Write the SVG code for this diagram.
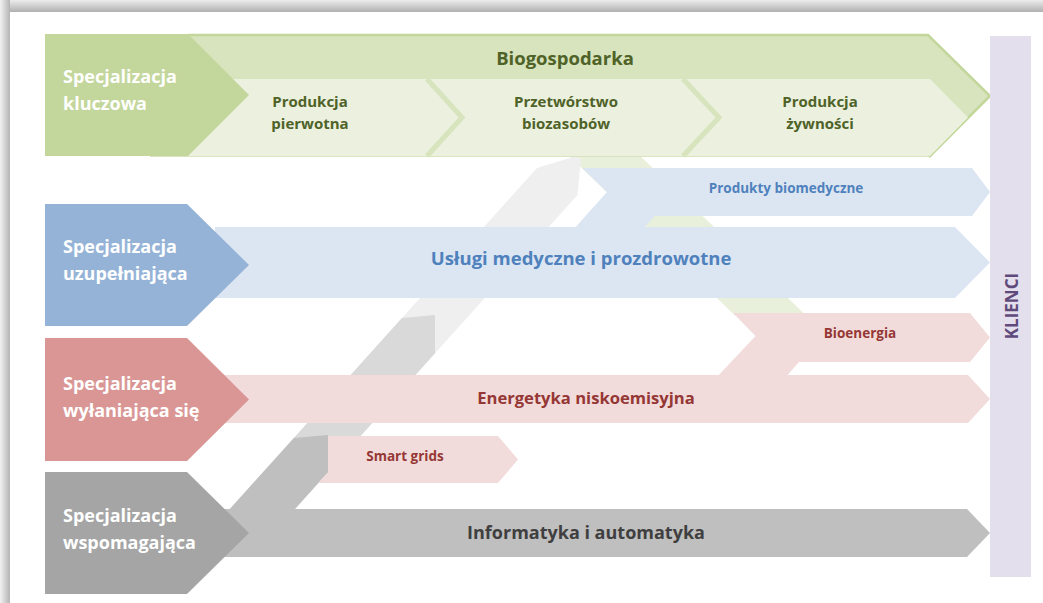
<svg xmlns="http://www.w3.org/2000/svg" width="1043" height="603" viewBox="0 0 1043 603">
  <defs>
    <linearGradient id="gt" x1="0" y1="0" x2="0" y2="1">
      <stop offset="0" stop-color="#ececec"/>
      <stop offset="1" stop-color="#b0b0b0"/>
    </linearGradient>
    <linearGradient id="gl" x1="0" y1="0" x2="1" y2="0">
      <stop offset="0" stop-color="#f2f2f2"/>
      <stop offset="1" stop-color="#b4b4b4"/>
    </linearGradient>
    <style>
      text { font-family: "Open Sans", "Liberation Sans", sans-serif; font-weight: bold; }
      .ch { font-size: 18px; fill: #ffffff; }
      .big { font-size: 18.5px; text-anchor: middle; }
      .sub { font-size: 15px; text-anchor: middle; fill: #4f6228; }
      .sm { font-size: 13.5px; text-anchor: middle; }
      .g { fill: #4f6228; }
      .b { fill: #4f81bd; }
      .r { fill: #953735; }
      .k { fill: #3f3f3f; }
      .sep { fill: none; stroke: #d7e4bd; stroke-width: 5; stroke-linejoin: miter; }
    </style>
  </defs>

  <!-- card with shadow -->
  <rect x="0" y="0" width="1043" height="603" fill="#ffffff"/>
  <rect x="0" y="0" width="1043" height="12" fill="url(#gt)"/>
  <rect x="0" y="0" width="10" height="603" fill="url(#gl)"/>

  <!-- connectors: diagonal branch bands -->
  <g id="connectors">
    <polygon points="563,150 634,150 806.6,316 735.6,316" fill="#e8efdb"/>
    <polygon points="537,168 573,157 581,158 577.5,195 285,520 220,520" fill="#efefef"/>
    <polygon points="402,318 435,315 435,353.3 285,520 220,520" fill="#d9d9d9"/>
    <polygon points="294,438 328,435 328,472.2 285,520 220,520" fill="#bfbfbf"/>
  </g>

  <!-- Biogospodarka -->
  <g id="biogospodarka">
    <polygon points="150,35 928,35 990,96 929,157 150,157" fill="#d7e4bd"/>
    <polyline points="188,35 928,35 990,96 929,157" fill="none" stroke="#c3d69b" stroke-width="2.5"/>
    <polygon points="150,79 930,79 968,117.5 930,156 150,156" fill="#ebf1de"/>
    <polyline class="sep" points="427,79 462,117.5 427,156"/>
    <polyline class="sep" points="683,79 719,117.5 683,156"/>
    <text class="big g" x="565" y="65">Biogospodarka</text>
  </g>
  <g id="produkcja-pierwotna">
    <text class="sub" x="310" y="107">Produkcja</text>
    <text class="sub" x="310" y="129">pierwotna</text>
  </g>
  <g id="przetworstwo">
    <text class="sub" x="566" y="107">Przetwórstwo</text>
    <text class="sub" x="566" y="129">biozasobów</text>
  </g>
  <g id="produkcja-zywnosci">
    <text class="sub" x="820" y="107">Produkcja</text>
    <text class="sub" x="820" y="129">żywności</text>
  </g>

  <!-- Usługi + Produkty biomedyczne -->
  <g id="produkty-biomedyczne">
    <polygon points="582,168 972,168 990,192 972,216 654.6,216 642,230 573,230 607,192" fill="#dce6f2"/>
    <text class="sm b" x="786" y="193">Produkty biomedyczne</text>
  </g>
  <g id="uslugi">
    <polygon points="215,227 955,227 990,262.5 955,298 215,298" fill="#dce6f2"/>
    <text class="big b" x="581" y="265">Usługi medyczne i prozdrowotne</text>
  </g>

  <!-- Energetyka + Bioenergia -->
  <g id="bioenergia">
    <polygon points="733,313 970,313 990,337.5 970,362 799,362 785,378 716,378 755.5,336" fill="#f2dcdb"/>
    <text class="sm r" x="860" y="338">Bioenergia</text>
  </g>
  <g id="energetyka">
    <polygon points="215,375 968,375 990,399 968,423 215,423" fill="#f2dcdb"/>
    <text class="big r" x="586" y="404" style="font-size:16.6px">Energetyka niskoemisyjna</text>
  </g>
  <g id="smart-grids">
    <polygon points="328,436 498,436 518,459.5 498,483 318.3,483 328,472.2" fill="#f2dcdb"/>
    <text class="sm r" x="405" y="461">Smart grids</text>
  </g>

  <!-- Informatyka -->
  <g id="informatyka">
    <polygon points="215,509 967,509 990,533 967,557 215,557" fill="#bfbfbf"/>
    <text class="big k" x="586" y="539" style="font-size:18px">Informatyka i automatyka</text>
  </g>

  <!-- Chevrons -->
  <g id="spec-kluczowa">
    <polygon points="45,34 188,34 249,95 188,156 45,156" fill="#c3d69b"/>
    <text class="ch" x="63" y="83">Specjalizacja</text>
    <text class="ch" x="63" y="110">kluczowa</text>
  </g>
  <g id="spec-uzupelniajaca">
    <polygon points="45,204 187,204 249,265 187,326 45,326" fill="#95b3d7"/>
    <text class="ch" x="63" y="253">Specjalizacja</text>
    <text class="ch" x="63" y="280">uzupełniająca</text>
  </g>
  <g id="spec-wylaniajaca">
    <polygon points="45,338 187,338 249,399.5 187,461 45,461" fill="#d99694"/>
    <text class="ch" x="63" y="390">Specjalizacja</text>
    <text class="ch" x="63" y="417">wyłaniająca się</text>
  </g>
  <g id="spec-wspomagajaca">
    <polygon points="45,472 187,472 249,533 187,594 45,594" fill="#a5a5a5"/>
    <text class="ch" x="63" y="522">Specjalizacja</text>
    <text class="ch" x="63" y="549">wspomagająca</text>
  </g>

  <!-- Klienci -->
  <g id="klienci">
    <rect x="990" y="36" width="41" height="541" fill="#e4dfec"/>
    <text x="1018" y="306" font-size="17" fill="#604a7b" text-anchor="middle" transform="rotate(-90 1018 306)">KLIENCI</text>
  </g>
</svg>
